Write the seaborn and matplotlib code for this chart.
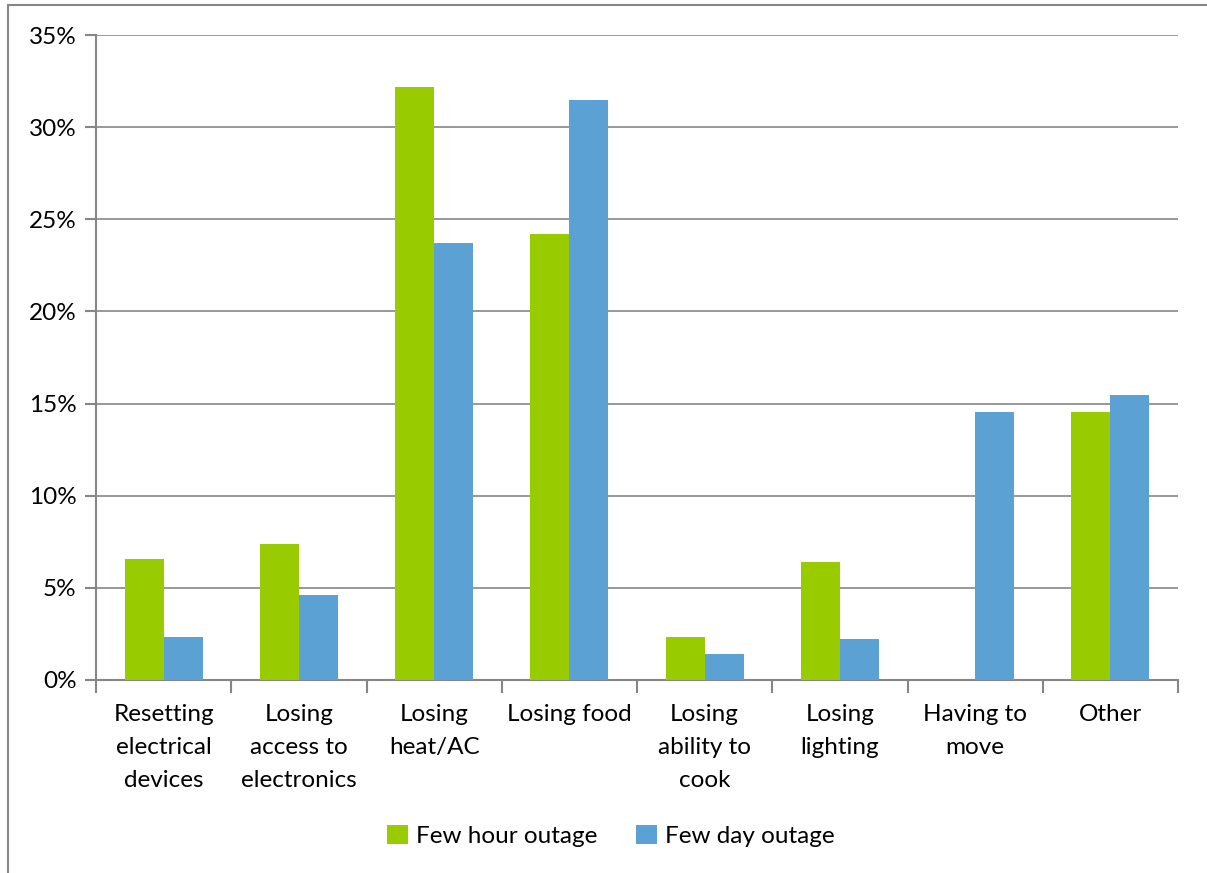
import matplotlib.pyplot as plt
import matplotlib.ticker as mtick
import numpy as np
import pandas as pd
import seaborn as sns
from matplotlib.lines import Line2D

categorias = ['Resetting\nelectrical\ndevices', 'Losing\naccess to\nelectronics', 'Losing\nheat/AC',
              'Losing food', 'Losing\nability to\ncook', 'Losing\nlighting', 'Having to\nmove', 'Other']
poucas_horas = [6.57, 7.38, 32.2, 24.2, 2.33, 6.4, 0.0, 14.54]
poucos_dias = [2.33, 4.61, 23.7, 31.45, 1.41, 2.22, 14.54, 15.46]
series = ['Few hour outage', 'Few day outage']
cores = ['#99CC00', '#5BA1D3']
cinza = '#868686'

df = pd.DataFrame({
    'cat': categorias * 2,
    'serie': [series[0]] * len(categorias) + [series[1]] * len(categorias),
    'valor': poucas_horas + poucos_dias,
})

sns.set_style('white')
plt.rcParams['font.family'] = ['Lato', 'DejaVu Sans']
plt.rcParams['text.color'] = 'black'
plt.rcParams['xtick.color'] = 'black'
plt.rcParams['ytick.color'] = 'black'

fig = plt.figure(figsize=(12.07, 8.73), dpi=100)
ax = fig.add_axes([96 / 1207, 1 - 680 / 873, (1178 - 96) / 1207, (680 - 35) / 873])

sns.barplot(data=df, x='cat', y='valor', hue='serie', palette=cores, width=0.577,
            order=categorias, hue_order=series, saturation=1, linewidth=0, ax=ax, zorder=3)

ax.set_ylim(0, 35)
ax.set_xlim(-0.5, len(categorias) - 0.5)
ax.yaxis.set_major_locator(mtick.MultipleLocator(5))
ax.yaxis.set_major_formatter(mtick.FuncFormatter(lambda v, p: f'{int(v)}%'))
ax.grid(axis='y', color=cinza, linewidth=1.2, zorder=0)
ax.set_axisbelow(True)
ax.set_xlabel('')
ax.set_ylabel('')

for lado in ['top', 'right']:
    ax.spines[lado].set_visible(False)
for lado in ['left', 'bottom']:
    ax.spines[lado].set_color(cinza)
    ax.spines[lado].set_linewidth(1.5)

ax.tick_params(axis='y', length=8, color=cinza, width=1.5, labelsize=17.5, pad=6, left=True)
ax.tick_params(axis='x', which='major', length=0, labelsize=17.5, pad=17)
ax.set_xticks(np.arange(-0.5, len(categorias)), minor=True)
ax.tick_params(axis='x', which='minor', length=9, color=cinza, width=1.5, bottom=True)
for t in ax.get_xticklabels():
    t.set_linespacing(1.72)

ax.legend(loc='center', bbox_to_anchor=(611 / 1207, 1 - 836 / 873), bbox_transform=fig.transFigure,
          ncol=2, frameon=False, fontsize=17.5, handlelength=0.85, handleheight=0.85,
          handletextpad=0.35, columnspacing=1.6)

# moldura da figura
fig.add_artist(Line2D([8 / 1207, 8 / 1207], [0, 1 - 5 / 873], color=cinza, linewidth=1.5))
fig.add_artist(Line2D([8 / 1207, 1], [1 - 5 / 873, 1 - 5 / 873], color=cinza, linewidth=1.5))

plt.savefig('out.png', dpi=100)
